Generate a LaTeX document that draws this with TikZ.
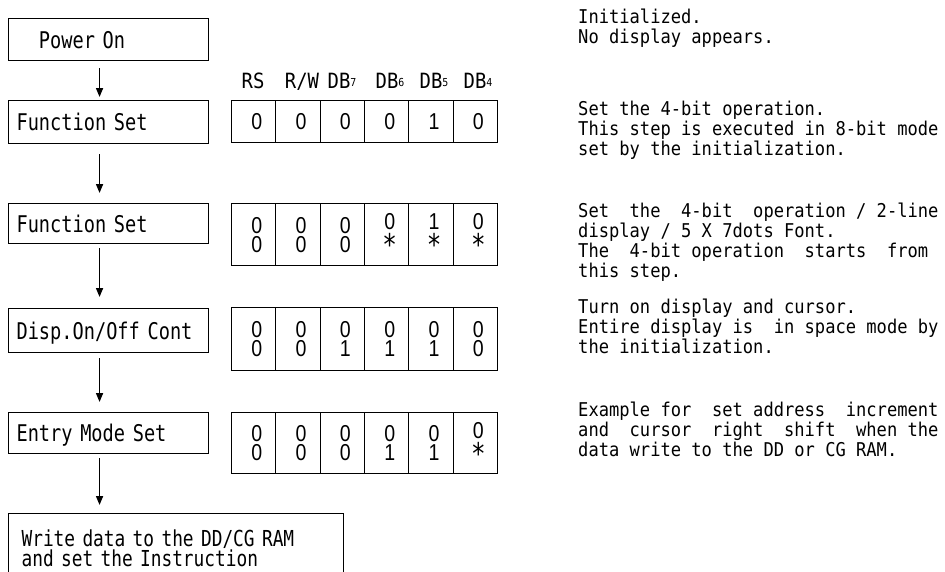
\documentclass[tikz,border=0pt]{standalone}
\usepackage{fontspec}
\usepackage{graphicx}
\usetikzlibrary{arrows.meta}
\newfontfamily\lfont[FakeStretch=0.81]{DejaVu Sans Mono}
\newfontfamily\rfont[FakeStretch=0.9]{DejaVu Sans Mono}
\newfontfamily\dfont[FakeStretch=0.85]{Liberation Sans}
\newcommand\one[1]{\hspace*{6pt}#1}
\newcommand\two[2]{\hspace*{6pt}\vbox{\offinterlineskip
  \hbox to 14pt{\hss\vrule height 16.5pt depth 0pt width 0pt #1\hss}\kern2.5pt
  \hbox to 14pt{\hss\vrule height 16.5pt depth 0pt width 0pt #2\hss}}}
\newcommand\sk{\raisebox{-7pt}{\scalebox{1.3}{\lfont *}}}
\newcommand\sub[1]{{\fontsize{11}{11}\selectfont\raisebox{2pt}{#1}}}
\tikzset{
  lbox/.style={draw, line width=1.1pt, rectangle, anchor=north west,
    minimum width=200pt, minimum height=#1, inner xsep=8pt, inner ysep=0pt,
    text width=184pt, align=left, font=\lfont\fontsize{23}{23}\selectfont,
    text height=17pt, text depth=0pt},
  wbox/.style={draw, line width=1.1pt, rectangle, anchor=north west,
    minimum width=335pt, minimum height=70pt, inner xsep=13pt, inner ysep=0pt,
    text width=309pt, align=left, font=\lfont\fontsize{22}{18}\selectfont},
  cell/.style={draw, line width=1.1pt, rectangle, anchor=north west,
    minimum width=44.333pt, minimum height=#1, inner sep=0pt,
    font=\dfont\fontsize{23}{23}\selectfont},
  hdr/.style={anchor=base, inner sep=0pt, font=\rfont\fontsize{21}{21}\selectfont},
  rtext/.style={anchor=north west, inner sep=0pt, align=left,
    font=\rfont\fontsize{19}{20}\selectfont},
  flow/.style={line width=1.6pt, -{Triangle[length=9pt,width=7pt]}},
}
\begin{document}
\begin{tikzpicture}[x=1pt,y=-1pt]
\useasboundingbox (0,0) rectangle (945,571);
\clip (0,0) rectangle (945,571);
\fill[white] (0,0) rectangle (945,571);

% left flow boxes
\node[lbox=42pt] (pwr) at (8,18) {\phantom{Po}Power On};
\node[lbox=43pt] (fs1) at (8,100) {Function Set};
\node[lbox=40pt] (fs2) at (8,203) {Function Set};
\node[lbox=44pt] (disp) at (8,308) {Disp.On/Off Cont};
\node[lbox=41pt] (ems) at (8,412) {Entry Mode Set};
\node[wbox] (wr) at (8,513) {Write data to the DD/CG RAM\\and set the Instruction};

% arrows
\draw[flow] ([xshift=-9pt,yshift=-7pt]pwr.south) -- ([xshift=-9pt,yshift=3pt]fs1.north);
\draw[flow] ([xshift=-9pt,yshift=-10pt]fs1.south) -- ([xshift=-9pt,yshift=10pt]fs2.north);
\draw[flow] ([xshift=-9pt,yshift=-4pt]fs2.south) -- ([xshift=-9pt,yshift=11pt]disp.north);
\draw[flow] ([xshift=-9pt,yshift=-5pt]disp.south) -- ([xshift=-9pt,yshift=10pt]ems.north);
\draw[flow] ([xshift=-9pt,yshift=-4pt]ems.south) -- ([xshift=-76.5pt,yshift=8pt]wr.north);

% headers
\node[hdr] (hRS) at (253,88.5) {RS};
\node[hdr] (hRW) at (302,88.5) {R/W};
\node[hdr] (hD7) at (342,88.5) {DB\sub{7}};
\node[hdr] (hD6) at (390,88.5) {DB\sub{6}};
\node[hdr] (hD5) at (434,88.5) {DB\sub{5}};
\node[hdr] (hD4) at (478,88.5) {DB\sub{4}};

% register rows
\foreach \i/\v in {1/0,2/0,3/0,4/0,5/1,6/0}
  \node[cell=42pt] (ra\i) at ({231+(\i-1)*44.333},100) {\one{\v}};
\foreach \i/\a/\b in {1/0/0,2/0/0,3/0/0,4/0/\sk,5/1/\sk,6/0/\sk}
  \node[cell=62pt] (rb\i) at ({231+(\i-1)*44.333},203) {\two{\a}{\b}};
\foreach \i/\a/\b in {1/0/0,2/0/0,3/0/1,4/0/1,5/0/1,6/0/0}
  \node[cell=63pt] (rc\i) at ({231+(\i-1)*44.333},307) {\two{\a}{\b}};
\foreach \i/\a/\b in {1/0/0,2/0/0,3/0/0,4/0/1,5/0/1,6/0/\sk}
  \node[cell=61pt] (rd\i) at ({231+(\i-1)*44.333},412) {\two{\a}{\b}};

% right descriptions
\node[rtext] (t1) at (578,8.6) {Initialized.\\No display appears.};
\node[rtext] (t2) at (578,100.6) {Set the 4-bit operation.\\This step is executed in 8-bit mode\\set by the initialization.};
\node[rtext] (t3) at (578,202.6) {Set\ \ the\ \ 4-bit\ \ operation / 2-line\\display / 5 X 7dots Font.\\The\ \ 4-bit operation\ \ starts\ \ from\\this step.};
\node[rtext] (t4) at (578,298.6) {Turn on display and cursor.\\Entire display is\ \ in space mode by\\the initialization.};
\node[rtext] (t5) at (578,401.6) {Example for\ \ set address\ \ increment\\and\ \ cursor\ \ right\ \ shift\ \ when the\\data write to the DD or CG RAM.};
\end{tikzpicture}
\end{document}
